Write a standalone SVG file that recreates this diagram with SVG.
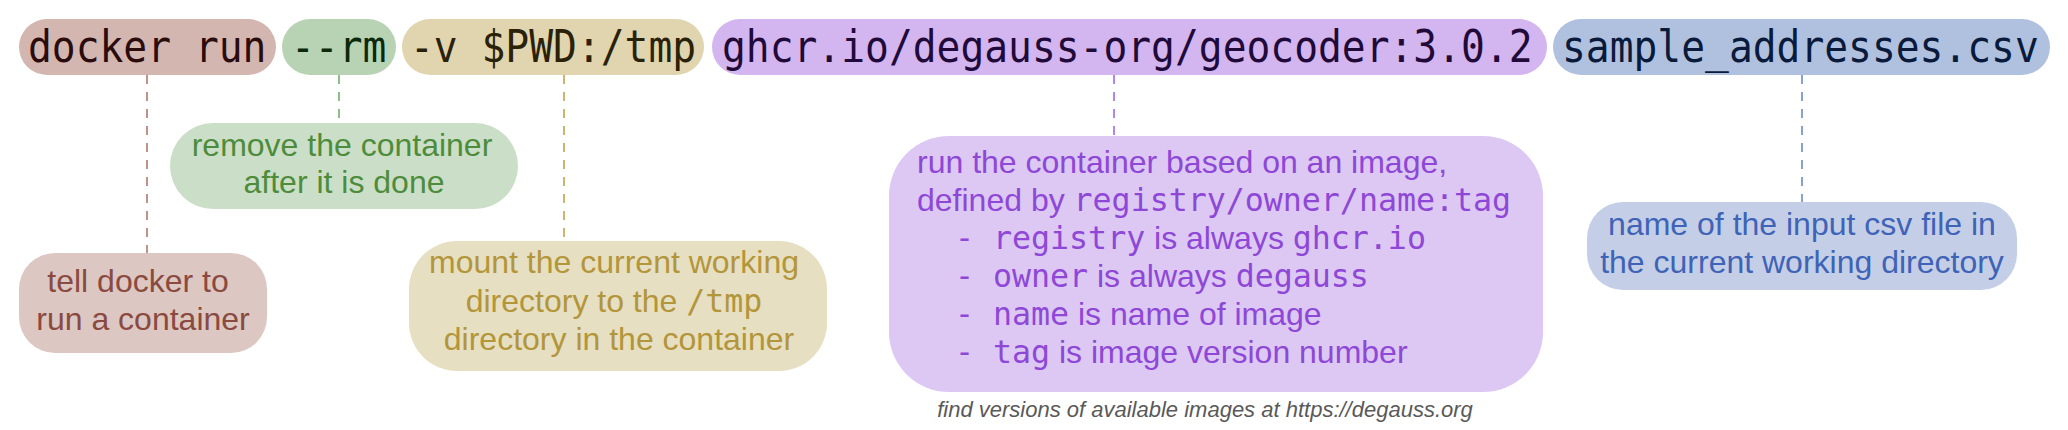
<svg xmlns="http://www.w3.org/2000/svg" width="2068" height="430" viewBox="0 0 2068 430">
<style>
.cmd{font-family:"DejaVu Sans Mono","Liberation Mono",monospace;font-size:39.6px}
.lbl{font-family:"Liberation Sans",Arial,sans-serif;font-size:32px}
.mono{font-family:"DejaVu Sans Mono","Liberation Mono",monospace;font-size:31.6px}
.conn{fill:none;stroke-width:2;stroke-dasharray:9 8}
.foot{font-family:"Liberation Sans",Arial,sans-serif;font-size:22px;font-style:italic;fill:#595959}
</style>
<rect width="2068" height="430" fill="#ffffff"/>
<g id="connectors">
<line class="conn" x1="147" y1="75" x2="147" y2="253" stroke="#c0928c"/>
<line class="conn" x1="339" y1="75" x2="339" y2="123" stroke="#8fbf88"/>
<line class="conn" x1="564" y1="75" x2="564" y2="241" stroke="#ccb56e"/>
<line class="conn" x1="1114" y1="75" x2="1114" y2="136" stroke="#b386ee"/>
<line class="conn" x1="1802" y1="75" x2="1802" y2="202" stroke="#8a9fd8"/>
</g>
<g id="pill-docker-run">
<rect x="19" y="19" width="257" height="56" rx="28" fill="#d4b6b1"/>
<text class="cmd" transform="translate(28,62) scale(1,1.13)" fill="#2a0c0c">docker run</text>
</g>
<g id="pill-rm">
<rect x="282" y="19" width="114" height="56" rx="28" fill="#b8d3b4"/>
<text class="cmd" transform="translate(291,62) scale(1,1.13)" fill="#0b2a0b">--rm</text>
</g>
<g id="pill-volume">
<rect x="402" y="19" width="302" height="56" rx="28" fill="#e0d5ae"/>
<text class="cmd" transform="translate(410,62) scale(1,1.13)" fill="#2a2208">-v $PWD:/tmp</text>
</g>
<g id="pill-image">
<rect x="712" y="19" width="835" height="56" rx="28" fill="#d3b5ef"/>
<text class="cmd" transform="translate(722,62) scale(1,1.13)" fill="#1f0a3a">ghcr.io/degauss-org/geocoder:3.0.2</text>
</g>
<g id="pill-csv">
<rect x="1553" y="19" width="497" height="56" rx="28" fill="#b0c1e0"/>
<text class="cmd" transform="translate(1562,62) scale(1,1.13)" fill="#0a1a3a">sample_addresses.csv</text>
</g>
<g id="note-docker-run">
<rect x="19" y="253" width="248" height="100" rx="36" fill="#dcc7c3"/>
<text class="lbl" fill="#8a4a3f" text-anchor="middle"><tspan x="138" y="292">tell docker to</tspan><tspan x="143" y="330">run a container</tspan></text>
</g>
<g id="note-rm">
<rect x="170" y="123" width="348" height="86" rx="43" fill="#cbdfc8"/>
<text class="lbl" fill="#4e8c3c" text-anchor="middle"><tspan x="342" y="156">remove the container</tspan><tspan x="344" y="193">after it is done</tspan></text>
</g>
<g id="note-volume">
<rect x="409" y="241" width="418" height="130" rx="48" fill="#e7dfc2"/>
<text class="lbl" fill="#b3953a" text-anchor="middle"><tspan x="614" y="273">mount the current working</tspan><tspan x="614" y="312">directory to the <tspan class="mono">/tmp</tspan></tspan><tspan x="619" y="350">directory in the container</tspan></text>
</g>
<g id="note-image">
<rect x="889" y="136" width="654" height="256" rx="60" fill="#dcc8f3"/>
<g fill="#8e47d6">
<text class="lbl" x="917" y="173">run the container based on an image,</text>
<text class="lbl" x="917" y="211">defined by <tspan class="mono">registry/owner/name:tag</tspan></text>
<text class="mono" x="955" y="249">-</text>
<text class="lbl" x="993" y="249"><tspan class="mono">registry</tspan> is always <tspan class="mono">ghcr.io</tspan></text>
<text class="mono" x="955" y="287">-</text>
<text class="lbl" x="993" y="287"><tspan class="mono">owner</tspan> is always <tspan class="mono">degauss</tspan></text>
<text class="mono" x="955" y="325">-</text>
<text class="lbl" x="993" y="325"><tspan class="mono">name</tspan> is name of image</text>
<text class="mono" x="955" y="363">-</text>
<text class="lbl" x="993" y="363"><tspan class="mono">tag</tspan> is image version number</text>
</g>
</g>
<g id="note-csv">
<rect x="1587" y="202" width="430" height="88" rx="36" fill="#c4cfe7"/>
<text class="lbl" fill="#3f63b6" text-anchor="middle"><tspan x="1802" y="235">name of the input csv file in</tspan><tspan x="1802" y="273">the current working directory</tspan></text>
</g>
<text class="foot" x="1205" y="417" text-anchor="middle">find versions of available images at https://degauss.org</text>
</svg>
